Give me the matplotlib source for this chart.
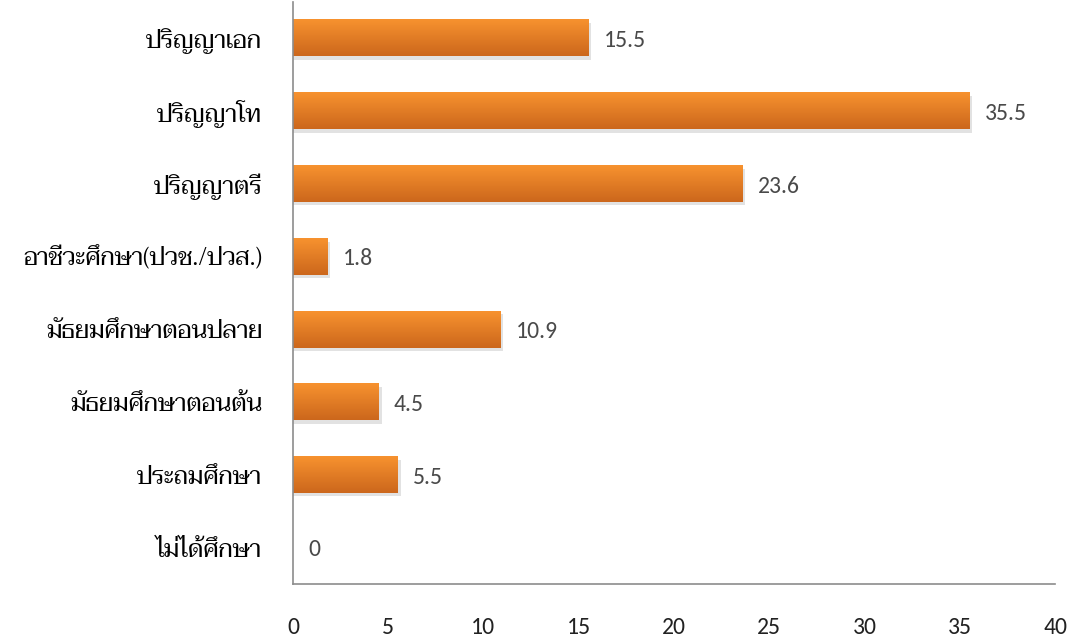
import numpy as np
import matplotlib
matplotlib.use("Agg")
import matplotlib.pyplot as plt
from matplotlib.colors import LinearSegmentedColormap

# Data
categories = [
    "ไม่ได้ศึกษา",
    "ประถมศึกษา",
    "มัธยมศึกษาตอนต้น",
    "มัธยมศึกษาตอนปลาย",
    "อาชีวะศึกษา(ปวช./ปวส.)",
    "ปริญญาตรี",
    "ปริญญาโท",
    "ปริญญาเอก",
]
values = [0, 5.5, 4.5, 10.9, 1.8, 23.6, 35.5, 15.5]
value_labels = ["0", "5.5", "4.5", "10.9", "1.8", "23.6", "35.5", "15.5"]
x_ticks = [0, 5, 10, 15, 20, 25, 30, 35, 40]

thai_family = ["Taviraj", "DejaVu Sans"]
num_family = ["Carlito", "Liberation Sans Narrow", "DejaVu Sans"]

fig = plt.figure(figsize=(10.69, 6.39), dpi=100)
ax = fig.add_axes([0.274, 0.086, 0.713, 0.911])

y = np.arange(len(categories))
bar_h = 0.5

# orange bars with vertical gradient and soft shadow
grad = np.linspace(0, 1, 50).reshape(-1, 1)
cmap = LinearSegmentedColormap.from_list("org", ["#CC671C", "#F7922F"])
for yi, v in zip(y, values):
    if v <= 0:
        continue
    ax.barh(yi - 0.045, v + 0.15, height=bar_h, color="#a0a0a0", alpha=0.3,
            zorder=1)
    ax.imshow(grad, extent=(0, v, yi - bar_h / 2, yi + bar_h / 2),
              aspect="auto", cmap=cmap, origin="lower", zorder=2)

for yi, v, lab in zip(y, values, value_labels):
    ax.text(v + 0.8, yi - 0.03, lab, va="center", ha="left", fontsize=17,
            color="#4a4a4a", family=num_family)

ax.set_xlim(0, 40)
ax.set_ylim(-0.5, 7.5)
ax.set_yticks(y)
ax.set_yticklabels(categories, family=thai_family, fontsize=17.5, color="black")
ax.set_xticks(x_ticks)
ax.set_xticklabels([str(t) for t in x_ticks], fontsize=17, family=num_family,
                   color="#222222")
ax.tick_params(axis="x", length=0, pad=24)
ax.tick_params(axis="y", length=0, pad=22)
for s in ["top", "right"]:
    ax.spines[s].set_visible(False)
for s in ["left", "bottom"]:
    ax.spines[s].set_color("#8c8c8c")
    ax.spines[s].set_linewidth(1.2)

fig.savefig("out.png", dpi=100)
